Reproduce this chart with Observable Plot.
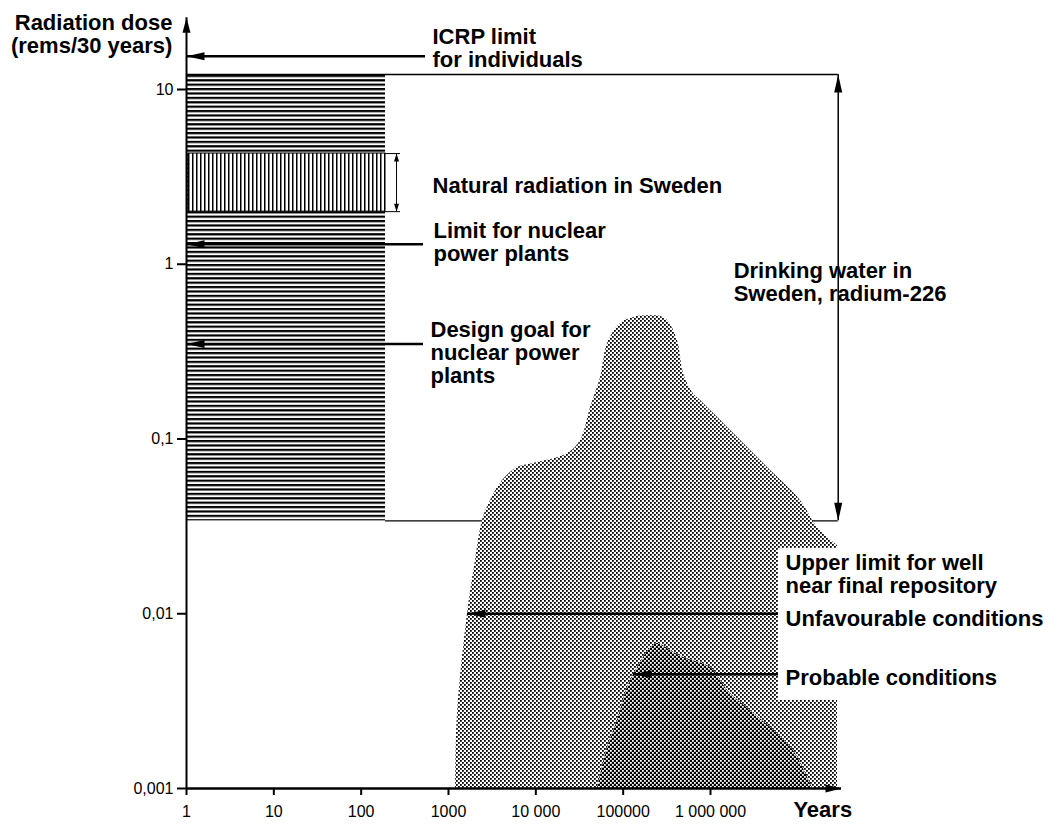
<!DOCTYPE html>
<html><head><meta charset="utf-8">
<script src="https://cdn.jsdelivr.net/npm/d3@7"></script>
<script src="https://cdn.jsdelivr.net/npm/@observablehq/plot@0.6"></script>
<style>body{margin:0;background:#fff;}</style>
</head><body>
<svg width="0" height="0" style="position:absolute">
<defs>
<pattern id="hhatch" patternUnits="userSpaceOnUse" width="8" height="4.4"><rect x="0" y="0" width="8" height="2.2" fill="#000"/></pattern>
<pattern id="vhatch" patternUnits="userSpaceOnUse" width="4" height="8"><rect width="4" height="8" fill="#fff"/><rect x="0" y="0" width="1.5" height="8" fill="#000"/></pattern>
<pattern id="lightdots" patternUnits="userSpaceOnUse" width="4" height="4"><rect width="4" height="4" fill="#fff"/><rect x="0" y="0" width="1.8" height="1.8" fill="#000"/><rect x="2" y="2" width="1.8" height="1.8" fill="#000"/></pattern>
<pattern id="darkdots" patternUnits="userSpaceOnUse" width="4" height="4"><rect width="4" height="4" fill="#000"/><rect x="0" y="0" width="1.8" height="1.8" fill="#fff"/><rect x="2" y="2" width="1.8" height="1.8" fill="#fff"/></pattern>
</defs></svg>
<div id="chart"></div>
<script>
// ---- tick values and labels ----
const xTicks = [1, 10, 100, 1000, 1e4, 1e5, 1e6];
const xTickLabels = ["1", "10", "100", "1000", "10 000", "100000", "1 000 000"];
const yTicks = [0.001, 0.01, 0.1, 1, 10];
const yTickLabels = ["0,001", "0,01", "0,1", "1", "10"];

// ---- upper limit for well near final repository: unfavourable conditions ----
const unfavourableYears = [1202, 1268, 1651, 2037, 2451, 3027, 4152, 6166, 9397, 23070, 32500, 42300, 55100, 66200, 93300, 131300, 195000, 268000, 322000, 419000, 491000, 622000, 769000, 1840000, 4500000, 10700000, 16800000, 28500000];
const unfavourableDose = [0.001, 0.00269, 0.01, 0.0202, 0.0342, 0.0445, 0.0579, 0.0687, 0.0724, 0.0826, 0.098, 0.1515, 0.225, 0.352, 0.458, 0.496, 0.509, 0.503, 0.477, 0.366, 0.237, 0.1845, 0.166, 0.1075, 0.0687, 0.0445, 0.0312, 0.0246];

// ---- probable conditions ----
const probableYears = [50800, 66200, 86100, 112000, 146000, 195000, 247000, 348000, 491000, 1000000, 1570000, 2870000, 5850000, 8900000, 12900000, 14700000];
const probableDose = [0.001, 0.00172, 0.00245, 0.00378, 0.00492, 0.00617, 0.00676, 0.00617, 0.00562, 0.00492, 0.00364, 0.00279, 0.00206, 0.00165, 0.00116, 0.001];

// ---- reference dose levels (rems/30 years) ----
const icrpLimit = 15.5;
const plantLimit = 1.3;
const plantDesignGoal = 0.35;
const wellUnfavourable = 0.01;
const wellProbable = 0.0045;
const drinkingWater = [0.034, 12.2];      // range, radium-226
const naturalRadiation = [2.0, 4.3];      // range in Sweden
const hatchYears = 190;                   // width of the reference bands (years)

// ---- pointer lines: from label side (years) to target (years) ----
const pointers = [
  {from: 546, to: 1, dose: icrpLimit},
  {from: 517, to: 1, dose: plantLimit},
  {from: 517, to: 1, dose: plantDesignGoal},
  {from: 6.0e6, to: 1651, dose: wellUnfavourable},
  {from: 6.0e6, to: 131300, dose: wellProbable}
];

const annotations = [
  {label: "ICRP limit\nfor individuals", year: 656, dose: 17.3},
  {label: "Natural radiation in Sweden", year: 656, dose: 2.82},
  {label: "Limit for nuclear\npower plants", year: 673, dose: 1.34},
  {label: "Design goal for\nnuclear power\nplants", year: 622, dose: 0.3126},
  {label: "Drinking water in\nSweden, radium-226", year: 1.84e6, dose: 0.791},
  {label: "Upper limit for well\nnear final repository", year: 7.23e6, dose: 0.01677},
  {label: "Unfavourable conditions", year: 7.23e6, dose: 0.0094},
  {label: "Probable conditions", year: 7.23e6, dose: 0.00432}
];

const unfav = unfavourableYears.map((x, i) => ({x, y: unfavourableDose[i]}));
const prob = probableYears.map((x, i) => ({x, y: probableDose[i]}));
const xLab = new Map(xTicks.map((d, i) => [d, xTickLabels[i]]));
const yLab = new Map(yTicks.map((d, i) => [d, yTickLabels[i]]));

// arrowhead symbols (tip at origin)
const head = (L, W, dir) => ({
  draw(ctx) {
    const pts = {
      left: [[0,0],[L,-W],[L,W]], right: [[0,0],[-L,-W],[-L,W]],
      up: [[0,0],[-W,L],[W,L]], down: [[0,0],[-W,-L],[W,-L]]
    }[dir];
    ctx.moveTo(pts[0][0], pts[0][1]); ctx.lineTo(pts[1][0], pts[1][1]); ctx.lineTo(pts[2][0], pts[2][1]); ctx.closePath();
  }
});

const xArrow = 2.9e7;
const yTop = 10 ** 1.41;
const xEnd = 10 ** 7.5;
const bold = {fontSize: 22, fontWeight: "bold", fill: "black", lineHeight: 1.05};

const chart = Plot.plot({
  width: 1059, height: 824,
  marginLeft: 186, marginRight: 218, marginTop: 15.6, marginBottom: 36,
  x: {type: "log", domain: [1, 10 ** 7.5]},
  y: {type: "log", domain: [1e-3, 10 ** 1.42]},
  style: {fontFamily: "'Liberation Sans', Arial, sans-serif", fontSize: "16px", color: "black", background: "white"},
  marks: [
    Plot.rect([drinkingWater], {x1: () => 1, x2: () => hatchYears, y1: d => d[0], y2: d => d[1], fill: "url(#hhatch)"}),
    Plot.rect([naturalRadiation], {x1: () => 1.05, x2: () => hatchYears, y1: d => d[0], y2: d => d[1], fill: "url(#vhatch)", stroke: "black", strokeWidth: 1}),
    Plot.ruleX([254], {y1: () => naturalRadiation[0], y2: () => naturalRadiation[1], strokeWidth: 1}),
    Plot.ruleY(naturalRadiation, {x1: () => hatchYears, x2: () => 282, strokeWidth: 1}),
    Plot.dot([naturalRadiation[1]], {x: () => 254, y: d => d, symbol: head(8, 2.5, "up"), fill: "black", stroke: "none"}),
    Plot.dot([naturalRadiation[0]], {x: () => 254, y: d => d, symbol: head(8, 2.5, "down"), fill: "black", stroke: "none"}),
    Plot.ruleY([drinkingWater[1]], {x1: () => 1, x2: () => xArrow, strokeWidth: 1.5}),
    Plot.ruleY([drinkingWater[0]], {x1: () => hatchYears, x2: () => xArrow, strokeWidth: 1.2}),
    Plot.ruleX([xArrow], {y1: () => drinkingWater[0], y2: () => drinkingWater[1], strokeWidth: 1.5}),
    Plot.dot([drinkingWater[1]], {x: () => xArrow, y: d => d, symbol: head(18, 4, "up"), fill: "black", stroke: "none"}),
    Plot.dot([drinkingWater[0]], {x: () => xArrow, y: d => d, symbol: head(18, 4, "down"), fill: "black", stroke: "none"}),
    Plot.area(unfav, {x1: "x", y1: () => 0.001, y2: "y", curve: "catmull-rom", fill: "url(#lightdots)"}),
    Plot.area(prob, {x1: "x", y1: () => 0.001, y2: "y", curve: "catmull-rom", fill: "url(#darkdots)"}),
    Plot.rect([0], {x1: () => 6.0e6, x2: () => 3.0e7, y1: () => 0.00319, y2: () => 0.0236, fill: "white"}),
    Plot.ruleY(pointers, {y: "dose", x1: "from", x2: "to", strokeWidth: 2.5}),
    Plot.dot(pointers, {x: "to", y: "dose", symbol: head(18, 4, "left"), fill: "black", stroke: "none"}),
    Plot.ruleX([1], {y1: () => 0.001, y2: () => yTop, strokeWidth: 2}),
    Plot.dot([yTop], {x: () => 1, y: d => d, symbol: head(15, 4, "up"), fill: "black", stroke: "none"}),
    Plot.ruleY([0.001], {x1: () => 1, x2: () => xEnd, strokeWidth: 2.5}),
    Plot.dot([xEnd], {x: d => d, y: () => 0.001, symbol: head(16, 4, "right"), fill: "black", stroke: "none"}),
    Plot.axisX(xTicks, {tickFormat: d => xLab.get(d), tickSize: 7, tickPadding: 10, strokeWidth: 2, fontSize: 16, label: null}),
    Plot.axisY(yTicks, {tickFormat: d => yLab.get(d), tickSize: 9, tickPadding: 4, strokeWidth: 2, fontSize: 16, label: null}),
    Plot.text(annotations, {x: "year", y: "dose", text: "label", textAnchor: "start", lineAnchor: "middle", ...bold}),
    Plot.text(["Radiation dose\n(rems/30 years)"], {x: () => 0.69, y: () => 20.8, text: d => d, textAnchor: "end", lineAnchor: "middle", ...bold}),
    Plot.text(["Years"], {x: () => 8.9e6, y: () => 0.000758, text: d => d, textAnchor: "start", lineAnchor: "middle", ...bold})
  ]
});
document.getElementById("chart").appendChild(chart);
</script>
</body></html>
